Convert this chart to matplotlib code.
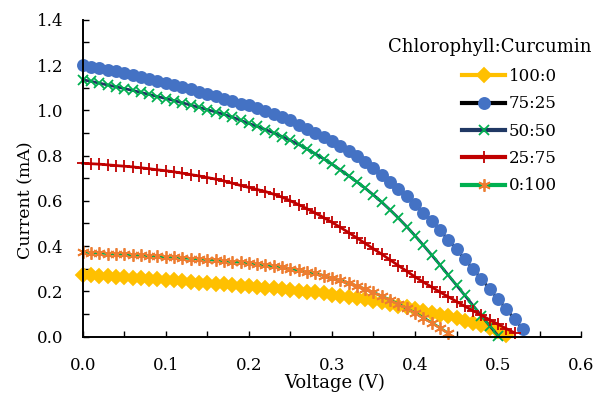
import matplotlib
matplotlib.use("Agg")
import matplotlib.pyplot as plt
from matplotlib.ticker import MultipleLocator, FormatStrFormatter

# voltage grid shared by every series (V)
voltage = [0.00, 0.01, 0.02, 0.03, 0.04, 0.05, 0.06, 0.07, 0.08, 0.09,
           0.10, 0.11, 0.12, 0.13, 0.14, 0.15, 0.16, 0.17, 0.18, 0.19,
           0.20, 0.21, 0.22, 0.23, 0.24, 0.25, 0.26, 0.27, 0.28, 0.29,
           0.30, 0.31, 0.32, 0.33, 0.34, 0.35, 0.36, 0.37, 0.38, 0.39,
           0.40, 0.41, 0.42, 0.43, 0.44, 0.45, 0.46, 0.47, 0.48, 0.49,
           0.50, 0.51, 0.52, 0.53]

# current (mA)
cur_100_0 = [0.273, 0.271, 0.269, 0.267, 0.265, 0.263, 0.261, 0.258, 0.256, 0.253,
             0.251, 0.248, 0.245, 0.242, 0.239, 0.236, 0.233, 0.231, 0.228, 0.225,
             0.222, 0.219, 0.216, 0.213, 0.210, 0.207, 0.203, 0.199, 0.195, 0.191,
             0.186, 0.181, 0.176, 0.170, 0.164, 0.158, 0.151, 0.144, 0.137, 0.129,
             0.121, 0.113, 0.105, 0.097, 0.089, 0.080, 0.071, 0.061, 0.050, 0.038,
             0.025, 0.008]
cur_75_25 = [1.200, 1.193, 1.186, 1.179, 1.172, 1.164, 1.156, 1.148, 1.140, 1.131,
             1.122, 1.113, 1.103, 1.093, 1.083, 1.073, 1.062, 1.051, 1.040, 1.028,
             1.022, 1.010, 0.997, 0.984, 0.970, 0.955, 0.934, 0.918, 0.901, 0.883,
             0.864, 0.842, 0.820, 0.796, 0.770, 0.743, 0.712, 0.683, 0.652, 0.620,
             0.585, 0.548, 0.510, 0.470, 0.428, 0.385, 0.342, 0.298, 0.254, 0.210,
             0.166, 0.121, 0.077, 0.032]
cur_50_50 = [1.135, 1.128, 1.120, 1.112, 1.104, 1.096, 1.088, 1.079, 1.070, 1.061,
             1.052, 1.043, 1.033, 1.023, 1.013, 1.003, 0.993, 0.982, 0.970, 0.956,
             0.942, 0.929, 0.915, 0.900, 0.884, 0.867, 0.849, 0.829, 0.808, 0.786,
             0.762, 0.737, 0.711, 0.684, 0.656, 0.626, 0.594, 0.560, 0.524, 0.486,
             0.446, 0.404, 0.361, 0.317, 0.272, 0.227, 0.182, 0.137, 0.092, 0.047,
             0.004]
cur_25_75 = [0.766, 0.764, 0.762, 0.759, 0.756, 0.753, 0.750, 0.746, 0.742, 0.737,
             0.733, 0.728, 0.722, 0.716, 0.710, 0.703, 0.696, 0.688, 0.678, 0.668,
             0.659, 0.650, 0.641, 0.629, 0.616, 0.600, 0.583, 0.565, 0.546, 0.526,
             0.505, 0.483, 0.460, 0.436, 0.412, 0.388, 0.364, 0.339, 0.314, 0.289,
             0.264, 0.241, 0.219, 0.197, 0.176, 0.155, 0.134, 0.114, 0.094, 0.074,
             0.054, 0.035, 0.016]
cur_0_100 = [0.373, 0.371, 0.369, 0.367, 0.365, 0.363, 0.361, 0.359, 0.357, 0.355,
             0.352, 0.350, 0.348, 0.345, 0.343, 0.340, 0.337, 0.334, 0.331, 0.328,
             0.324, 0.320, 0.316, 0.311, 0.306, 0.300, 0.294, 0.287, 0.279, 0.270,
             0.260, 0.249, 0.237, 0.224, 0.210, 0.195, 0.179, 0.162, 0.144, 0.125,
             0.105, 0.084, 0.062, 0.039, 0.015]

labels = ["100:0", "75:25", "50:50", "25:75", "0:100"]

plt.rcParams["font.family"] = ["DejaVu Serif"]
plt.rcParams["font.size"] = 12

fig = plt.figure(figsize=(5.93, 3.96), dpi=100)
ax = fig.add_axes([0.1395, 0.150, 0.8405, 0.800])

# (current, line colour, marker, marker face, marker edge, size)
styles = [
    (cur_100_0, "#FFC000", "D", "#FFC000", "#FFC000", 6.8),
    (cur_75_25, "#000000", "o", "#4472C4", "#4472C4", 8.0),
    (cur_50_50, "#203864", "x", "#00B050", "#00B050", 7.5),
    (cur_25_75, "#C00000", "+", "#C00000", "#C00000", 8.5),
    (cur_0_100, "#00B050", (6, 2, 0), "#ED7D31", "#ED7D31", 9.0),
]

for (cur, lc, mk, mfc, mec, ms), lab in zip(styles, labels):
    ax.plot(voltage[:len(cur)], cur, color=lc, lw=2.0, marker=mk, ms=ms,
            mfc=mfc, mec=mec, mew=1.3, label=lab, clip_on=False)

ax.set_xlim(0, 0.6)
ax.set_ylim(0, 1.4)
ax.xaxis.set_major_locator(MultipleLocator(0.1))
ax.xaxis.set_minor_locator(MultipleLocator(0.05))
ax.yaxis.set_major_locator(MultipleLocator(0.2))
ax.yaxis.set_minor_locator(MultipleLocator(0.1))
ax.xaxis.set_major_formatter(FormatStrFormatter("%.1f"))
ax.yaxis.set_major_formatter(FormatStrFormatter("%.1f"))

for side in ("top", "right"):
    ax.spines[side].set_visible(False)
for side in ("left", "bottom"):
    ax.spines[side].set_linewidth(1.4)
ax.tick_params(which="both", direction="in", length=4, width=1.0, color="black")
ax.tick_params(axis="x", which="major", pad=15)
ax.tick_params(axis="y", which="major", pad=14)

ax.set_xlabel("Voltage (V)", fontsize=13)
ax.set_ylabel("Current (mA)", fontsize=12.5)
ax.xaxis.set_label_coords(0.506, -0.118)
ax.yaxis.set_label_coords(-0.097, 0.432)

leg = ax.legend(loc="upper left", bbox_to_anchor=(0.779, 0.828),
                bbox_transform=fig.transFigure, frameon=False, numpoints=1,
                handlelength=2.6, handletextpad=0.2, labelspacing=0.62,
                borderpad=0, borderaxespad=0)
for line in leg.get_lines():
    line.set_linewidth(3)
fig.text(0.826, 0.881, "Chlorophyll:Curcumin", ha="center", va="center", fontsize=13)

fig.savefig("out.png", dpi=100)
